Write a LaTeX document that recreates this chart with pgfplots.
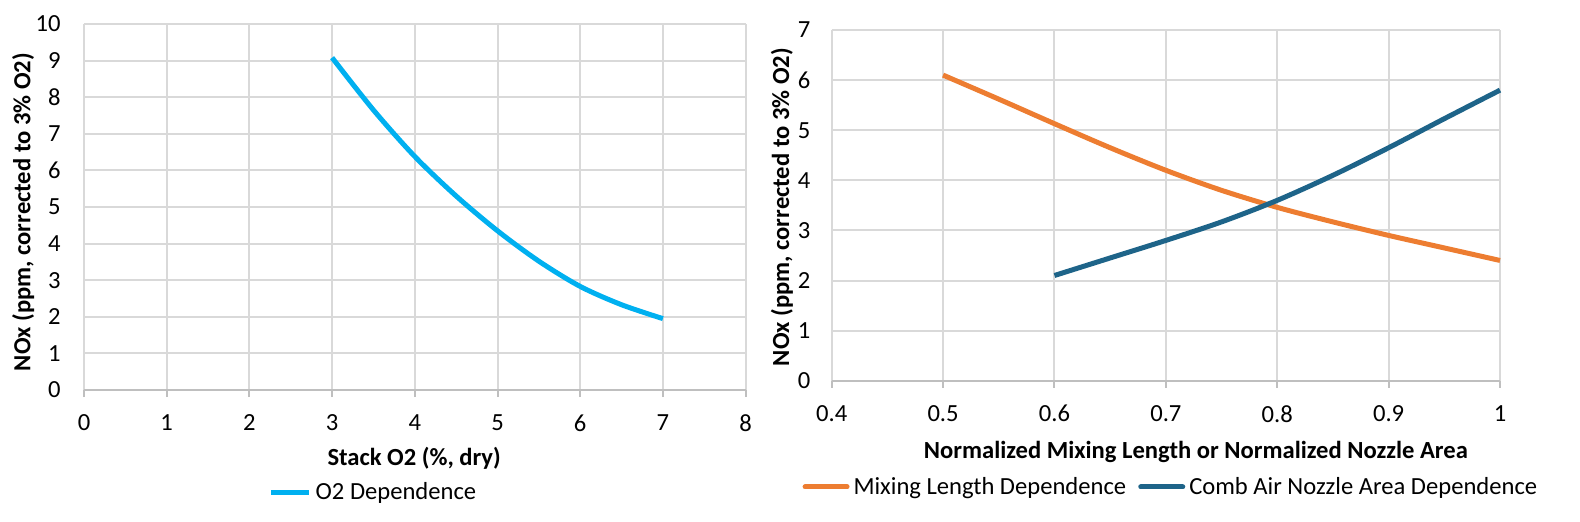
\documentclass[border=0pt]{standalone}
\usepackage{fontspec}
\setmainfont{Carlito}
\usepackage{pgfplots}
\pgfplotsset{compat=1.18}
\definecolor{cLight}{HTML}{00B0F0}
\definecolor{cOrange}{HTML}{ED7D31}
\definecolor{cTeal}{HTML}{1E6489}
\definecolor{cGrid}{HTML}{D9D9D9}
\definecolor{cAxis}{HTML}{BFBFBF}
\pgfplotsset{
  myaxis/.style={
    scale only axis,
    anchor=south west,
    font=\fontsize{12.3}{14}\selectfont,
    /pgf/number format/assume math mode=true,
    axis x line=bottom,
    axis y line=left,
    x axis line style={draw=cAxis, line width=1pt, -},
    y axis line style={draw=none},
    grid=major,
    major grid style={draw=cGrid, line width=1pt},
    tick align=outside,
    major tick length=3.5pt,
    x tick style={draw=cAxis, line width=1pt},
    y tick style={draw=none},
    x tick label style={anchor=center, yshift=-13pt},
    y tick label style={anchor=east, inner sep=0pt},
    legend style={draw=none, fill=none, legend columns=-1, font=\fontsize{12.3}{14}\selectfont,
      /tikz/every even column/.append style={column sep=4pt}},
    legend cell align=left,
    clip=false,
  }
}
\begin{document}
\begin{tikzpicture}
\useasboundingbox (0,0) rectangle (790pt,260.5pt);
\begin{axis}[myaxis,
  at={(42pt,65.5pt)}, width=330.8pt, height=183pt,
  xmin=0, xmax=8, ymin=0, ymax=10,
  xtick={0,1,...,8}, ytick={0,1,...,10},
  y tick label style={xshift=-8pt},
  xlabel={Stack O2 (\%, dry)},
  ylabel={NOx (ppm, corrected to 3\% O2)},
  every axis x label/.append style={at={(axis description cs:0.499,-0.186)}, anchor=center, font=\fontsize{12.3}{14}\selectfont\bfseries},
  every axis y label/.append style={at={(axis description cs:-0.092,0.486)}, anchor=center, font=\fontsize{12.3}{14}\selectfont\bfseries},
  legend style={at={(axis description cs:0.439,-0.281)}, anchor=center},
  legend image code/.code={\draw[#1] (0pt,0pt) -- (19pt,0pt);},
]
\addplot[cLight, line width=2.5pt, smooth] coordinates {
(3,9.08) (3.5,7.65) (4,6.38) (4.5,5.30) (5,4.35) (5.5,3.52) (6,2.83) (6.5,2.33) (7,1.95)};
\addlegendentry{O2 Dependence}
\end{axis}
\begin{axis}[myaxis,
  at={(415.85pt,70.15pt)}, width=334.15pt, height=175.35pt,
  xmin=0.4, xmax=1, ymin=0, ymax=7,
  xtick={0.4,0.5,...,1.0}, ytick={0,1,...,7},
  xticklabels={0.4,0.5,0.6,0.7,0.8,0.9,1},
  y tick label style={xshift=-7pt},
  xlabel={Normalized Mixing Length or Normalized Nozzle Area},
  ylabel={NOx (ppm, corrected to 3\% O2)},
  every axis x label/.append style={at={(axis description cs:0.545,-0.203)}, anchor=center, font=\fontsize{12.3}{14}\selectfont\bfseries},
  every axis y label/.append style={at={(axis description cs:-0.0744,0.495)}, anchor=center, font=\fontsize{12.3}{14}\selectfont\bfseries},
  legend style={at={(axis description cs:0.509,-0.303)}, anchor=center},
  legend image code/.code={\draw[#1, line cap=round] (0pt,0pt) -- (21pt,0pt);},
]
\addplot[cOrange, line width=2.5pt, smooth] coordinates {
(0.5,6.10) (0.55,5.62) (0.6,5.13) (0.65,4.65) (0.7,4.20) (0.75,3.80) (0.8,3.46) (0.85,3.17) (0.9,2.90) (0.95,2.65) (1.0,2.40)};
\addlegendentry{Mixing Length Dependence}
\addplot[cTeal, line width=2.5pt, smooth] coordinates {
(0.6,2.10) (0.65,2.45) (0.7,2.80) (0.75,3.17) (0.8,3.60) (0.85,4.10) (0.9,4.65) (0.95,5.23) (1.0,5.80)};
\addlegendentry{Comb Air Nozzle Area Dependence}
\end{axis}
\end{tikzpicture}
\end{document}
